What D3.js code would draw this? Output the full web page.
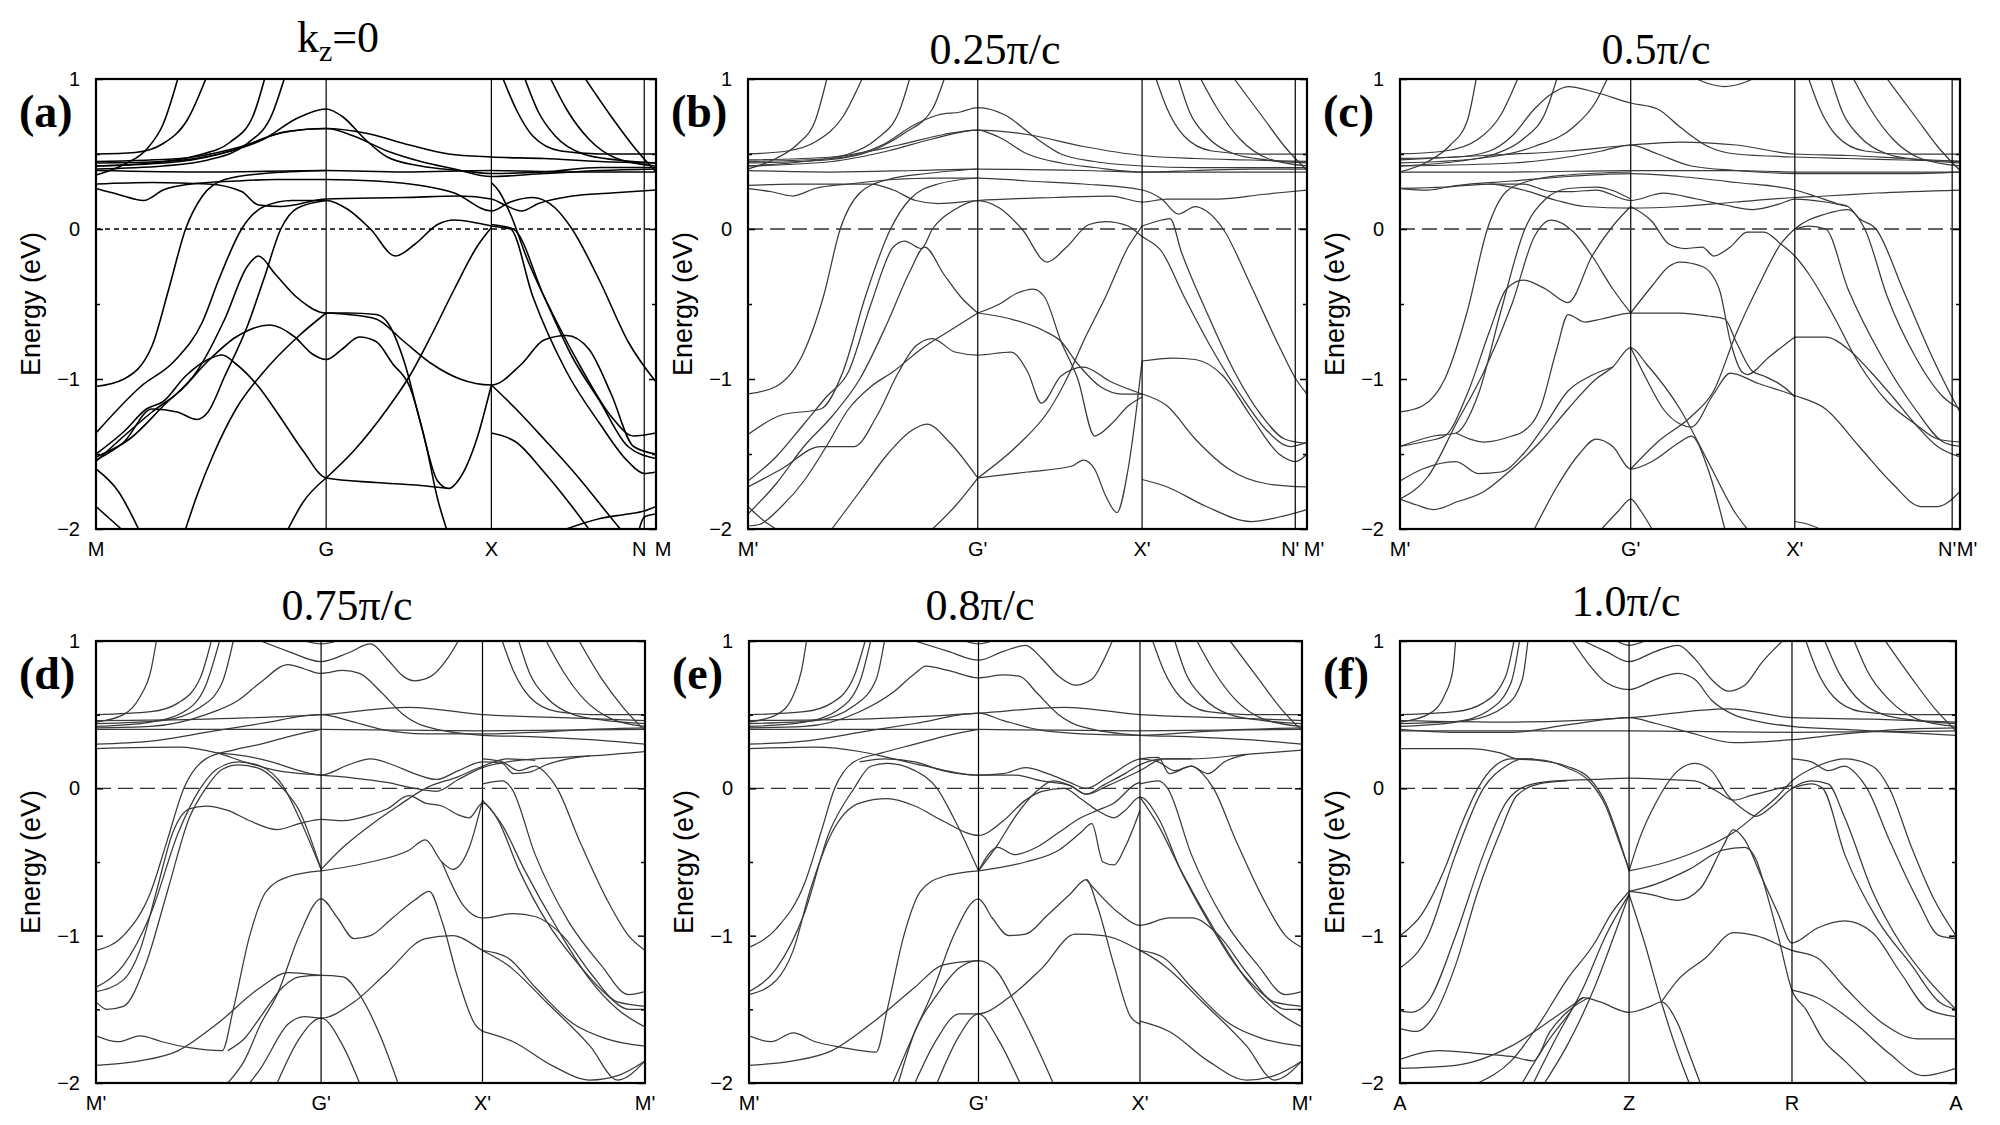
<!DOCTYPE html>
<meta charset="utf-8">
<style>
body { margin: 0; background: #fff; }
svg { display: block; }
.band { fill: none; }
.sym { stroke: #000; stroke-width: 1.2px; }
.frame { fill: none; stroke: #000; stroke-width: 2.2px; }
.axis text { font-family: "Liberation Sans", Arial, sans-serif; font-size: 20px; fill: #000; }
.axis line { stroke: #000; stroke-width: 1.5px; }
.axis path { display: none; }
.klabel { font-family: "Liberation Sans", Arial, sans-serif; font-size: 20px; }
.ylabel { font-family: "Liberation Sans", Arial, sans-serif; font-size: 27px; }
.title { font-family: "Liberation Serif", "Times New Roman", serif; font-size: 44px; }
.letter { font-family: "Liberation Serif", "Times New Roman", serif; font-size: 46px; font-weight: bold; }
</style>
<svg id="chart" width="2000" height="1125"></svg>
<script src="https://d3js.org/d3.v7.min.js"></script>
<script>
// panel titles, letters and k-path labels
var panelTitles = ["k=0", "0.25\u03c0/c", "0.5\u03c0/c", "0.75\u03c0/c", "0.8\u03c0/c", "1.0\u03c0/c"];
var panelLetters = ["(a)", "(b)", "(c)", "(d)", "(e)", "(f)"];
var kPoints = [
    [0, 0.411, 0.706, 0.979, 1],
    [0, 0.411, 0.705, 0.979, 1],
    [0, 0.412, 0.705, 0.986, 1],
    [0, 0.41, 0.704, 1],
    [0, 0.415, 0.707, 1],
    [0, 0.412, 0.705, 1]
];
var kNames = [
    ["M", "G", "X", "N", "M"],
    ["M'", "G'", "X'", "N'", "M'"],
    ["M'", "G'", "X'", "N'", "M'"],
    ["M'", "G'", "X'", "M'"],
    ["M'", "G'", "X'", "M'"],
    ["A", "Z", "R", "A"]
];
var energyTicks = [-2, -1.5, -1, -0.5, 0, 0.5, 1];

// bands: lists of [k (fraction of path), energy eV]
var bandsA = [
 [[0,0.36],[0.05,0.43],[0.09,0.53],[0.12,0.7],[0.146,1]],
 [[0,0.5],[0.07,0.51],[0.12,0.57],[0.165,0.74],[0.196,1]],
 [[0,0.42],[0.1,0.44],[0.18,0.49],[0.24,0.58],[0.28,0.75],[0.301,1]],
 [[0,0.4],[0.12,0.42],[0.2,0.46],[0.27,0.57],[0.315,0.77],[0.336,1]],
 [[0,0.44],[0.12,0.45],[0.22,0.5],[0.3,0.6],[0.36,0.74],[0.411,0.8],[0.44,0.75],[0.48,0.6],[0.52,0.48],[0.58,0.42],[0.65,0.39],[0.706,0.37],[0.8,0.38],[0.9,0.41],[1,0.41]],
 [[0,0.42],[0.15,0.45],[0.25,0.53],[0.33,0.64],[0.411,0.67],[0.48,0.64],[0.56,0.56],[0.63,0.5],[0.706,0.48],[0.8,0.47],[0.9,0.45],[1,0.44]],
 [[0,0.45],[0.15,0.47],[0.26,0.55],[0.34,0.65],[0.411,0.67],[0.46,0.62],[0.52,0.52],[0.58,0.45],[0.64,0.4],[0.706,0.35],[0.8,0.37],[0.9,0.39],[1,0.4]],
 [[0,0.39],[0.2,0.38],[0.411,0.39],[0.55,0.38],[0.706,0.39],[0.85,0.38],[1,0.38]],
 [[0,0.3],[0.1,0.31],[0.2,0.3],[0.26,0.25],[0.29,0.16],[0.33,0.15],[0.411,0.2],[0.55,0.21],[0.65,0.22],[0.706,0.2],[0.73,0.16],[0.76,0.12],[0.79,0.17],[0.85,0.22],[0.92,0.24],[1,0.26]],
 [[0,0.27],[0.04,0.23],[0.085,0.19],[0.12,0.26],[0.17,0.3],[0.25,0.32],[0.32,0.33],[0.411,0.33],[0.5,0.32],[0.58,0.29],[0.64,0.24],[0.706,0.12],[0.74,0.18],[0.78,0.21],[0.82,0.14],[0.85,0],[0.9,-0.35],[0.95,-0.75],[1,-1.02]],
 [[0,-1.05],[0.05,-1.0],[0.1,-0.78],[0.13,-0.4],[0.16,0],[0.19,0.22],[0.23,0.33],[0.3,0.37],[0.411,0.39]],
 [[0,-1.36],[0.08,-1.05],[0.14,-0.88],[0.19,-0.62],[0.22,-0.33],[0.26,0],[0.3,0.15],[0.35,0.19],[0.411,0.19],[0.45,0.13],[0.49,0],[0.535,-0.18],[0.57,-0.1],[0.61,0.03],[0.64,0.06],[0.68,0.04],[0.706,0.02],[0.74,0.0],[0.78,-0.45],[0.84,-0.95],[0.9,-1.3],[0.95,-1.55],[0.979,-1.63],[1,-1.62]],
 [[0,-1.54],[0.05,-1.42],[0.1,-1.2],[0.145,-1.22],[0.18,-1.27],[0.2,-1.22],[0.23,-0.98],[0.27,-0.65],[0.3,-0.33],[0.33,0],[0.36,0.14],[0.411,0.19]],
 [[0,-1.52],[0.06,-1.4],[0.12,-1.18],[0.18,-0.95],[0.23,-0.6],[0.27,-0.25],[0.29,-0.18],[0.32,-0.3],[0.36,-0.46],[0.411,-0.56],[0.45,-0.56],[0.5,-0.57],[0.52,-0.62],[0.55,-0.88],[0.58,-1.3],[0.61,-1.68],[0.63,-1.73],[0.65,-1.66],[0.68,-1.4],[0.706,-1.04]],
 [[0,-1.55],[0.05,-1.38],[0.1,-1.22],[0.15,-1.08],[0.2,-0.88],[0.25,-0.72],[0.31,-0.64],[0.355,-0.72],[0.385,-0.83],[0.411,-0.87],[0.44,-0.8],[0.47,-0.72],[0.5,-0.75],[0.53,-0.9],[0.56,-1.05],[0.59,-1.45],[0.61,-1.8],[0.626,-2]],
 [[0.411,-0.56],[0.45,-0.57],[0.5,-0.6],[0.55,-0.75],[0.6,-0.9],[0.65,-1.0],[0.706,-1.04],[0.76,-0.9],[0.8,-0.74],[0.84,-0.71],[0.88,-0.8],[0.92,-1.1],[0.96,-1.45],[1,-1.5]],
 [[0.16,-2],[0.18,-1.78],[0.21,-1.5],[0.25,-1.2],[0.3,-0.95],[0.36,-0.72],[0.411,-0.56]],
 [[0,-1.5],[0.05,-1.35],[0.09,-1.2],[0.12,-1.15],[0.16,-0.98],[0.2,-0.87],[0.225,-0.84],[0.25,-0.9],[0.29,-1.05],[0.33,-1.26],[0.37,-1.48],[0.411,-1.66],[0.5,-1.69],[0.58,-1.71],[0.63,-1.73]],
 [[0.411,-1.66],[0.46,-1.48],[0.52,-1.2],[0.56,-0.98],[0.6,-0.7],[0.64,-0.4],[0.68,-0.12],[0.706,0.01]],
 [[0.343,-2],[0.37,-1.82],[0.411,-1.66]],
 [[0.706,-1.36],[0.75,-1.42],[0.8,-1.62],[0.85,-1.85],[0.88,-2]],
 [[0.706,-1.04],[0.75,-1.2],[0.8,-1.4],[0.86,-1.65],[0.91,-1.88],[0.936,-2]],
 [[0.706,0.03],[0.745,0],[0.8,-0.45],[0.85,-0.85],[0.9,-1.15],[0.95,-1.45],[1,-1.53]],
 [[0.706,0.31],[0.72,0.25],[0.74,0.1],[0.77,-0.2],[0.82,-0.6],[0.87,-0.95],[0.92,-1.25],[0.96,-1.38],[1,-1.36]],
 [[0.84,-2],[0.9,-1.93],[0.95,-1.9],[0.979,-1.88],[1,-1.85]],
 [[0.97,-2],[0.979,-1.92],[1,-1.9]],
 [[0,-1.85],[0.03,-1.95],[0.045,-2]],
 [[0,-1.6],[0.04,-1.75],[0.076,-2]],
 [[0.727,1],[0.75,0.8],[0.78,0.62],[0.83,0.52],[0.9,0.5],[1,0.5]],
 [[0.766,1],[0.79,0.78],[0.82,0.62],[0.87,0.5],[0.93,0.46],[1,0.44]],
 [[0.812,1],[0.84,0.8],[0.88,0.6],[0.93,0.47],[1,0.42]],
 [[0.874,1],[0.92,0.75],[0.96,0.55],[1,0.38]]
];

var bandsB = [
 [[0,0.4],[0.05,0.47],[0.09,0.57],[0.12,0.72],[0.141,1]],
 [[0,0.5],[0.07,0.52],[0.12,0.58],[0.17,0.75],[0.204,1]],
 [[0,0.42],[0.1,0.45],[0.18,0.5],[0.23,0.6],[0.27,0.78],[0.289,1]],
 [[0,0.44],[0.14,0.46],[0.22,0.52],[0.28,0.64],[0.33,0.8],[0.351,1]],
 [[0,0.45],[0.15,0.47],[0.24,0.56],[0.3,0.7],[0.34,0.76],[0.38,0.78],[0.411,0.81],[0.46,0.76],[0.51,0.62],[0.56,0.5],[0.62,0.45],[0.705,0.42],[0.8,0.41],[0.9,0.41],[1,0.41]],
 [[0,0.42],[0.15,0.45],[0.25,0.52],[0.33,0.6],[0.411,0.66],[0.5,0.63],[0.6,0.55],[0.705,0.49],[0.8,0.47],[0.9,0.46],[1,0.45]],
 [[0,0.46],[0.15,0.48],[0.27,0.56],[0.35,0.63],[0.411,0.66],[0.45,0.61],[0.5,0.5],[0.56,0.44],[0.62,0.41],[0.705,0.38],[0.8,0.39],[0.9,0.4],[1,0.4]],
 [[0,0.39],[0.15,0.38],[0.3,0.39],[0.411,0.4],[0.6,0.39],[0.705,0.38],[0.85,0.38],[1,0.38]],
 [[0,0.29],[0.08,0.3],[0.16,0.3],[0.22,0.3],[0.26,0.26],[0.3,0.19],[0.34,0.17],[0.411,0.19],[0.55,0.21],[0.65,0.22],[0.705,0.18],[0.75,0.2],[0.8,0.2],[0.84,0.2],[0.92,0.23],[1,0.26]],
 [[0,0.27],[0.04,0.25],[0.08,0.22],[0.12,0.27],[0.18,0.3],[0.26,0.33],[0.33,0.34],[0.411,0.34],[0.5,0.32],[0.6,0.3],[0.705,0.26],[0.74,0.2],[0.77,0.1],[0.8,0.15],[0.82,0.12],[0.85,0],[0.9,-0.38],[0.95,-0.78],[0.98,-1.0],[1,-1.1]],
 [[0,-1.1],[0.05,-1.05],[0.1,-0.82],[0.135,-0.45],[0.165,0],[0.2,0.24],[0.25,0.33],[0.32,0.37],[0.411,0.4]],
 [[0,-1.37],[0.06,-1.24],[0.13,-1.2],[0.17,-0.95],[0.21,-0.45],[0.255,0],[0.29,0.2],[0.34,0.3],[0.411,0.34]],
 [[0,-1.68],[0.05,-1.52],[0.1,-1.3],[0.14,-1.12],[0.18,-0.95],[0.22,-0.5],[0.26,-0.12],[0.28,-0.08],[0.31,-0.13],[0.33,0],[0.37,0.13],[0.411,0.19],[0.45,0.14],[0.49,0],[0.535,-0.22],[0.57,-0.12],[0.61,0.03],[0.64,0.05],[0.68,0.02],[0.705,-0.05],[0.74,-0.15],[0.78,-0.45],[0.83,-0.8],[0.88,-1.1],[0.93,-1.35],[0.97,-1.45],[1,-1.42]],
 [[0.705,0.02],[0.74,0.06],[0.755,0.07],[0.775,-0.15],[0.82,-0.55],[0.87,-0.95],[0.92,-1.25],[0.96,-1.4],[1,-1.43]],
 [[0.411,-1.66],[0.48,-1.45],[0.54,-1.2],[0.57,-1.0],[0.6,-0.75],[0.64,-0.45],[0.68,-0.12],[0.705,0.02]],
 [[0.411,-1.66],[0.5,-1.62],[0.58,-1.58],[0.6,-1.54],[0.62,-1.6],[0.64,-1.78],[0.66,-1.89],[0.68,-1.6],[0.695,-1.2],[0.705,-0.88]],
 [[0.705,-0.88],[0.76,-0.86],[0.8,-0.87],[0.85,-0.98],[0.9,-1.25],[0.95,-1.5],[0.98,-1.55],[1,-1.5]],
 [[0.705,-1.1],[0.75,-1.18],[0.8,-1.4],[0.86,-1.6],[0.93,-1.7],[1,-1.72]],
 [[0.705,-1.67],[0.75,-1.72],[0.82,-1.85],[0.9,-1.95],[0.95,-1.92],[1,-1.87]],
 [[0,-1.9],[0.05,-1.7],[0.1,-1.45],[0.15,-1.25],[0.2,-1.0],[0.25,-0.62],[0.29,-0.28],[0.316,-0.12],[0.35,-0.3],[0.38,-0.45],[0.411,-0.56]],
 [[0.411,-0.56],[0.45,-0.5],[0.48,-0.43],[0.51,-0.4],[0.53,-0.45],[0.56,-0.75],[0.59,-1.0],[0.62,-1.38],[0.65,-1.3],[0.68,-1.18],[0.705,-1.12]],
 [[0.411,-0.56],[0.47,-0.6],[0.53,-0.68],[0.56,-0.75],[0.59,-0.9],[0.63,-1.05],[0.67,-1.1],[0.705,-1.1]],
 [[0,-1.72],[0.06,-1.6],[0.13,-1.45],[0.19,-1.45],[0.23,-1.25],[0.27,-0.95],[0.3,-0.78],[0.33,-0.73],[0.37,-0.82],[0.411,-0.84],[0.47,-0.82],[0.5,-0.95],[0.525,-1.16],[0.56,-0.98],[0.6,-0.92],[0.65,-1.02],[0.705,-1.1]],
 [[0,-1.98],[0.02,-1.97],[0.06,-1.85],[0.1,-1.68],[0.14,-1.45],[0.18,-1.2],[0.22,-1.05],[0.26,-0.95],[0.31,-0.8],[0.36,-0.68],[0.411,-0.56]],
 [[0.15,-2],[0.2,-1.75],[0.25,-1.5],[0.29,-1.35],[0.32,-1.3],[0.36,-1.42],[0.411,-1.66]],
 [[0.33,-2],[0.37,-1.85],[0.411,-1.66]],
 [[0,-1.85],[0.03,-1.95],[0.05,-2]],
 [[0.73,1],[0.75,0.8],[0.78,0.62],[0.83,0.52],[0.9,0.5],[1,0.5]],
 [[0.77,1],[0.79,0.78],[0.82,0.62],[0.87,0.5],[0.93,0.46],[1,0.44]],
 [[0.81,1],[0.84,0.8],[0.88,0.6],[0.93,0.47],[1,0.42]],
 [[0.87,1],[0.92,0.75],[0.96,0.55],[1,0.39]]
];

var bandsC = [
 [[0,0.38],[0.05,0.45],[0.09,0.56],[0.12,0.72],[0.136,1]],
 [[0,0.5],[0.08,0.52],[0.14,0.6],[0.18,0.76],[0.21,1]],
 [[0,0.42],[0.1,0.45],[0.17,0.5],[0.22,0.6],[0.26,0.78],[0.28,1]],
 [[0,0.44],[0.14,0.47],[0.24,0.55],[0.31,0.68],[0.35,0.85],[0.37,1]],
 [[0,0.47],[0.1,0.48],[0.16,0.52],[0.2,0.62],[0.24,0.8],[0.27,0.9],[0.3,0.95],[0.35,0.91],[0.412,0.84],[0.46,0.8],[0.5,0.68],[0.55,0.55],[0.6,0.5],[0.705,0.48],[0.8,0.47],[0.9,0.46],[1,0.45]],
 [[0.53,1],[0.55,0.97],[0.58,0.95],[0.61,0.97],[0.63,1]],
 [[0,0.46],[0.15,0.49],[0.3,0.52],[0.412,0.56],[0.5,0.58],[0.6,0.56],[0.705,0.5],[0.8,0.49],[0.9,0.47],[1,0.45]],
 [[0,0.42],[0.2,0.44],[0.3,0.48],[0.36,0.52],[0.412,0.56],[0.46,0.5],[0.52,0.42],[0.6,0.39],[0.705,0.37],[0.8,0.37],[0.9,0.37],[1,0.38]],
 [[0,0.38],[0.2,0.38],[0.412,0.39],[0.6,0.39],[0.705,0.38],[1,0.38]],
 [[0,0.27],[0.08,0.28],[0.16,0.3],[0.22,0.26],[0.28,0.19],[0.33,0.15],[0.412,0.14],[0.5,0.15],[0.6,0.18],[0.705,0.21],[0.76,0.22],[0.85,0.24],[1,0.26]],
 [[0.16,0.3],[0.22,0.3],[0.27,0.25],[0.31,0.25],[0.35,0.26],[0.412,0.19],[0.47,0.24],[0.53,0.2],[0.58,0.16],[0.63,0.13],[0.68,0.17],[0.705,0.2],[0.76,0.18],[0.8,0.15]],
 [[0,0.27],[0.05,0.26],[0.1,0.29],[0.2,0.32],[0.3,0.35],[0.412,0.37],[0.5,0.35],[0.6,0.31],[0.705,0.26],[0.74,0.22],[0.78,0.17],[0.8,0.15],[0.82,0.07],[0.85,0],[0.9,-0.42],[0.95,-0.85],[0.98,-1.08],[1,-1.22]],
 [[0,-1.22],[0.04,-1.18],[0.08,-1.0],[0.12,-0.55],[0.156,0],[0.19,0.25],[0.23,0.32],[0.3,0.36],[0.412,0.38]],
 [[0,-1.45],[0.06,-1.38],[0.1,-1.36],[0.14,-1.1],[0.18,-0.55],[0.223,0],[0.26,0.2],[0.3,0.27],[0.35,0.28],[0.412,0.2]],
 [[0,-1.8],[0.05,-1.65],[0.1,-1.3],[0.15,-0.95],[0.2,-0.5],[0.24,-0.05],[0.27,0.06],[0.31,-0.02],[0.343,-0.18],[0.38,-0.4],[0.412,-0.56]],
 [[0,-1.45],[0.04,-1.42],[0.08,-1.38],[0.12,-1.1],[0.16,-0.68],[0.19,-0.4],[0.22,-0.34],[0.26,-0.4],[0.3,-0.49],[0.343,-0.18],[0.38,0.02],[0.412,0.15]],
 [[0.412,0.15],[0.45,0.05],[0.48,-0.1],[0.51,-0.13],[0.54,-0.12],[0.56,-0.18],[0.59,-0.12],[0.62,-0.02],[0.65,-0.02],[0.68,-0.1],[0.705,-0.18],[0.73,-0.3],[0.77,-0.55],[0.82,-0.9],[0.87,-1.15],[0.92,-1.3],[0.96,-1.4],[1,-1.42]],
 [[0.705,0.0],[0.73,0.02],[0.76,0.0],[0.8,-0.4],[0.86,-0.85],[0.92,-1.2],[0.97,-1.42],[1,-1.45]],
 [[0.412,-1.6],[0.46,-1.42],[0.52,-1.25],[0.56,-1.08],[0.6,-0.7],[0.64,-0.38],[0.68,-0.1],[0.705,0.0],[0.76,0.1],[0.8,0.13],[0.83,0.0],[0.87,-0.45],[0.92,-0.85],[0.97,-1.12],[1,-1.2]],
 [[0.1,-1.36],[0.15,-1.42],[0.2,-1.38],[0.22,-1.35],[0.25,-1.2],[0.28,-0.8],[0.3,-0.57],[0.33,-0.62],[0.36,-0.6],[0.412,-0.56],[0.5,-0.56],[0.55,-0.58],[0.58,-0.6],[0.6,-0.75],[0.63,-0.95],[0.65,-0.98],[0.7,-1.1],[0.705,-1.12]],
 [[0.412,-0.56],[0.45,-0.38],[0.48,-0.25],[0.5,-0.22],[0.54,-0.25],[0.57,-0.4],[0.59,-0.75],[0.61,-0.95],[0.62,-0.97],[0.66,-0.85],[0.705,-0.72]],
 [[0.705,-0.72],[0.76,-0.72],[0.8,-0.8],[0.84,-0.95],[0.88,-1.12],[0.92,-1.3],[0.96,-1.45],[1,-1.52]],
 [[0.412,-0.79],[0.44,-1.0],[0.47,-1.2],[0.5,-1.3],[0.52,-1.32],[0.56,-1.1],[0.59,-0.96],[0.64,-1.03],[0.705,-1.11],[0.76,-1.2],[0.82,-1.45],[0.88,-1.7],[0.93,-1.85],[0.96,-1.85],[1,-1.75]],
 [[0.1,-1.82],[0.15,-1.75],[0.2,-1.6],[0.25,-1.42],[0.3,-1.2],[0.35,-1.0],[0.38,-0.92],[0.412,-0.79],[0.44,-0.9],[0.5,-1.2],[0.55,-1.55],[0.6,-1.9],[0.62,-2]],
 [[0.24,-2],[0.28,-1.72],[0.32,-1.5],[0.35,-1.4],[0.38,-1.45],[0.412,-1.6],[0.45,-1.55],[0.5,-1.42],[0.52,-1.38],[0.55,-1.6],[0.58,-2]],
 [[0.36,-2],[0.39,-1.88],[0.412,-1.8],[0.43,-1.88],[0.45,-2]],
 [[0,-1.68],[0.04,-1.6],[0.1,-1.55],[0.14,-1.63],[0.18,-1.62],[0.22,-1.5],[0.26,-1.3],[0.3,-1.08],[0.34,-0.98],[0.38,-0.92]],
 [[0,-1.8],[0.03,-1.84],[0.06,-1.87],[0.1,-1.82]],
 [[0.705,-1.95],[0.73,-1.97],[0.75,-2]],
 [[0.73,1],[0.75,0.8],[0.78,0.62],[0.83,0.52],[0.9,0.5],[1,0.5]],
 [[0.77,1],[0.79,0.78],[0.82,0.62],[0.87,0.5],[0.93,0.46],[1,0.44]],
 [[0.81,1],[0.84,0.8],[0.88,0.6],[0.93,0.47],[1,0.42]],
 [[0.87,1],[0.92,0.75],[0.96,0.55],[1,0.39]]
];

var bandsD = [
 [[0,0.45],[0.05,0.5],[0.08,0.62],[0.1,0.8],[0.11,1]],
 [[0,0.5],[0.1,0.52],[0.15,0.58],[0.19,0.75],[0.21,1]],
 [[0,0.42],[0.1,0.45],[0.16,0.52],[0.2,0.7],[0.225,1]],
 [[0,0.44],[0.12,0.46],[0.19,0.55],[0.23,0.72],[0.25,1]],
 [[0.3,1],[0.35,0.93],[0.41,0.86],[0.46,0.92],[0.5,0.98],[0.53,0.88],[0.56,0.76],[0.58,0.73],[0.61,0.76],[0.64,0.88],[0.66,1]],
 [[0.38,1],[0.41,0.98],[0.44,1]],
 [[0,0.41],[0.1,0.42],[0.2,0.5],[0.26,0.6],[0.3,0.72],[0.35,0.84],[0.38,0.81],[0.41,0.78],[0.45,0.8],[0.48,0.78],[0.52,0.65],[0.56,0.5],[0.6,0.42],[0.704,0.36],[0.8,0.35],[0.9,0.33],[1,0.3]],
 [[0,0.46],[0.2,0.47],[0.41,0.5],[0.57,0.55],[0.704,0.5],[0.85,0.48],[1,0.46]],
 [[0,0.3],[0.1,0.32],[0.2,0.38],[0.3,0.44],[0.41,0.5],[0.46,0.46],[0.52,0.4],[0.6,0.37],[0.704,0.37],[0.8,0.38],[0.9,0.4],[1,0.41]],
 [[0,0.4],[0.41,0.4],[0.7,0.39],[1,0.4]],
 [[0,0.27],[0.15,0.28],[0.22,0.24],[0.27,0.18],[0.33,0.12],[0.41,0.09],[0.47,0.07],[0.53,0.04],[0.58,0.0],[0.62,-0.02],[0.66,0.06],[0.704,0.14],[0.75,0.18],[0.8,0.2],[0.9,0.22],[1,0.25]],
 [[0.22,0.24],[0.27,0.22],[0.32,0.18],[0.37,0.12],[0.41,0.09],[0.46,0.16],[0.5,0.2],[0.54,0.16],[0.58,0.1],[0.62,0.06],[0.66,0.12],[0.704,0.18],[0.74,0.17],[0.76,0.1],[0.79,0.11],[0.82,0.16],[0.86,0.2],[0.9,0.22]],
 [[0,-1.1],[0.05,-1.0],[0.1,-0.7],[0.13,-0.35],[0.16,0],[0.2,0.2],[0.25,0.26],[0.3,0.3],[0.36,0.36],[0.41,0.4]],
 [[0,-1.35],[0.05,-1.2],[0.1,-0.85],[0.15,-0.3],[0.19,0],[0.22,0.13],[0.26,0.18],[0.3,0.15],[0.34,0.02],[0.37,-0.2],[0.41,-0.55]],
 [[0.41,-0.55],[0.45,-0.4],[0.5,-0.25],[0.55,-0.12],[0.6,0.0],[0.66,0.08],[0.704,0.15],[0.75,0.2],[0.8,0.19]],
 [[0,-1.45],[0.02,-1.5],[0.05,-1.48],[0.09,-1.2],[0.13,-0.7],[0.17,-0.2],[0.2,0],[0.23,0.13],[0.26,0.16],[0.3,0.13],[0.34,0.0],[0.37,-0.15],[0.41,-0.55]],
 [[0,-1.38],[0.05,-1.3],[0.08,-1.1],[0.11,-0.7],[0.14,-0.3],[0.17,-0.14],[0.2,-0.12],[0.24,-0.15],[0.28,-0.22],[0.33,-0.28],[0.37,-0.24],[0.41,-0.21],[0.45,-0.22],[0.5,-0.18],[0.53,-0.14],[0.57,-0.05],[0.6,-0.1],[0.63,-0.12],[0.66,-0.18],[0.68,-0.2],[0.704,-0.1],[0.73,-0.2],[0.77,-0.55],[0.82,-0.9],[0.88,-1.2],[0.93,-1.4],[0.97,-1.5],[1,-1.5]],
 [[0.24,-2],[0.27,-1.85],[0.3,-1.6],[0.33,-1.4],[0.37,-1.0],[0.41,-0.75],[0.44,-0.88],[0.47,-1.02],[0.5,-1.0],[0.54,-0.88],[0.58,-0.76],[0.607,-0.7],[0.63,-0.9],[0.66,-1.3],[0.69,-1.6],[0.704,-1.65]],
 [[0.41,-0.56],[0.5,-0.5],[0.57,-0.42],[0.6,-0.35],[0.63,-0.5],[0.65,-0.55],[0.68,-0.4],[0.704,-0.08]],
 [[0,-1.68],[0.04,-1.72],[0.08,-1.68],[0.12,-1.72],[0.17,-1.76],[0.23,-1.78],[0.25,-1.5],[0.28,-1.0],[0.31,-0.7],[0.35,-0.6],[0.41,-0.56]],
 [[0.24,-1.78],[0.27,-1.7],[0.3,-1.55],[0.34,-1.35],[0.37,-1.28],[0.41,-1.27],[0.45,-1.28],[0.48,-1.4],[0.52,-1.7],[0.55,-2]],
 [[0.28,-2],[0.3,-1.9],[0.35,-1.6],[0.38,-1.55],[0.41,-1.56],[0.47,-1.45],[0.53,-1.25],[0.6,-1.02],[0.65,-1.0],[0.704,-1.1],[0.75,-1.2],[0.82,-1.45],[0.9,-1.75],[0.95,-1.98],[1,-1.85]],
 [[0.33,-2],[0.37,-1.7],[0.41,-1.56],[0.45,-1.75],[0.48,-2]],
 [[0,-1.88],[0.08,-1.85],[0.15,-1.78],[0.22,-1.6],[0.3,-1.35],[0.35,-1.25],[0.41,-1.27]],
 [[0.63,-0.5],[0.67,-0.8],[0.704,-0.88],[0.76,-0.85],[0.8,-0.87],[0.85,-1.0],[0.9,-1.25],[0.95,-1.45],[1,-1.48]],
 [[0.704,-1.1],[0.75,-1.15],[0.8,-1.35],[0.87,-1.6],[0.93,-1.7],[1,-1.75]],
 [[0.704,-1.65],[0.76,-1.72],[0.83,-1.88],[0.9,-1.98],[0.95,-1.95],[1,-1.85]],
 [[0.704,0.2],[0.74,0.18],[0.77,0.12],[0.8,0.15],[0.82,0.1],[0.84,0],[0.88,-0.35],[0.93,-0.75],[0.97,-1.0],[1,-1.1]],
 [[0.704,0.03],[0.74,0.05],[0.757,0.0],[0.8,-0.45],[0.86,-0.9],[0.92,-1.2],[0.97,-1.4],[1,-1.38]],
 [[0.704,-0.08],[0.74,-0.25],[0.78,-0.55],[0.84,-0.95],[0.9,-1.3],[0.95,-1.5],[1,-1.62]],
 [[0.74,1],[0.76,0.8],[0.79,0.62],[0.84,0.52],[0.9,0.5],[1,0.5]],
 [[0.77,1],[0.79,0.78],[0.82,0.62],[0.87,0.5],[0.93,0.46],[1,0.44]],
 [[0.82,1],[0.85,0.8],[0.89,0.6],[0.94,0.47],[1,0.42]],
 [[0.88,1],[0.92,0.75],[0.96,0.55],[1,0.39]]
];

var bandsE = [
 [[0,0.45],[0.05,0.5],[0.08,0.63],[0.095,0.8],[0.104,1]],
 [[0,0.5],[0.1,0.52],[0.15,0.58],[0.19,0.76],[0.21,1]],
 [[0,0.42],[0.1,0.45],[0.16,0.53],[0.2,0.72],[0.22,1]],
 [[0,0.44],[0.12,0.46],[0.19,0.56],[0.23,0.74],[0.245,1]],
 [[0.3,1],[0.36,0.93],[0.415,0.87],[0.46,0.93],[0.5,0.97],[0.53,0.88],[0.56,0.76],[0.59,0.7],[0.62,0.74],[0.64,0.86],[0.657,1]],
 [[0.39,1],[0.415,0.98],[0.44,1]],
 [[0,0.41],[0.1,0.42],[0.2,0.52],[0.26,0.65],[0.3,0.78],[0.32,0.83],[0.36,0.8],[0.415,0.75],[0.46,0.77],[0.49,0.76],[0.52,0.65],[0.56,0.5],[0.6,0.42],[0.707,0.36],[0.8,0.35],[0.9,0.33],[1,0.3]],
 [[0,0.46],[0.2,0.47],[0.415,0.51],[0.57,0.55],[0.707,0.5],[0.85,0.48],[1,0.46]],
 [[0,0.3],[0.1,0.32],[0.2,0.38],[0.3,0.44],[0.415,0.51],[0.46,0.46],[0.52,0.4],[0.6,0.37],[0.707,0.36],[0.8,0.38],[0.9,0.4],[1,0.41]],
 [[0,0.4],[0.415,0.4],[0.7,0.39],[1,0.4]],
 [[0,0.27],[0.12,0.28],[0.2,0.25],[0.25,0.21],[0.32,0.15],[0.415,0.09],[0.48,0.09],[0.53,0.05],[0.58,0.02],[0.61,-0.04],[0.64,0.02],[0.68,0.1],[0.707,0.16],[0.75,0.2],[0.8,0.2],[0.9,0.23],[1,0.26]],
 [[0.2,0.18],[0.245,0.2],[0.3,0.18],[0.35,0.12],[0.415,0.09],[0.46,0.1],[0.5,0.14],[0.54,0.1],[0.58,0.04],[0.61,0.0],[0.65,0.08],[0.707,0.2],[0.74,0.21],[0.76,0.1],[0.8,0.15],[0.83,0.1],[0.86,0.18],[0.9,0.23]],
 [[0,-1.08],[0.05,-0.95],[0.1,-0.65],[0.13,-0.3],[0.155,0],[0.19,0.18],[0.24,0.24],[0.3,0.3],[0.36,0.36],[0.415,0.4]],
 [[0,-1.38],[0.05,-1.22],[0.1,-0.85],[0.145,-0.3],[0.19,0.0],[0.22,0.15],[0.25,0.17],[0.3,0.12],[0.34,0.0],[0.37,-0.2],[0.415,-0.56]],
 [[0.415,-0.56],[0.45,-0.38],[0.48,-0.2],[0.52,-0.02],[0.55,0.05],[0.58,0.02],[0.61,-0.04],[0.65,0.02],[0.707,0.12],[0.75,0.2],[0.8,0.2]],
 [[0,-1.4],[0.05,-1.3],[0.08,-1.1],[0.11,-0.7],[0.15,-0.3],[0.2,-0.1],[0.25,-0.07],[0.3,-0.12],[0.35,-0.22],[0.415,-0.32],[0.46,-0.22],[0.5,-0.08],[0.53,-0.02],[0.57,0.0],[0.6,-0.07],[0.63,-0.15],[0.66,-0.2],[0.68,-0.15],[0.707,-0.06],[0.74,-0.2],[0.78,-0.55],[0.83,-0.9],[0.88,-1.2],[0.93,-1.4],[0.97,-1.5],[1,-1.5]],
 [[0.26,-2],[0.3,-1.65],[0.33,-1.4],[0.37,-1.0],[0.415,-0.75],[0.44,-0.88],[0.47,-1.0],[0.5,-0.99],[0.54,-0.86],[0.58,-0.72],[0.61,-0.62],[0.63,-0.8],[0.66,-1.2],[0.69,-1.55],[0.707,-1.6]],
 [[0.415,-0.56],[0.5,-0.5],[0.56,-0.42],[0.6,-0.3],[0.62,-0.24],[0.64,-0.5],[0.66,-0.52],[0.68,-0.4],[0.707,-0.15]],
 [[0.415,-0.56],[0.45,-0.4],[0.48,-0.45],[0.52,-0.4],[0.56,-0.3],[0.6,-0.2],[0.63,-0.15],[0.66,-0.1],[0.7,0.03],[0.707,0.04]],
 [[0,-1.68],[0.04,-1.72],[0.08,-1.66],[0.12,-1.72],[0.17,-1.76],[0.23,-1.79],[0.25,-1.5],[0.28,-1.0],[0.31,-0.7],[0.35,-0.6],[0.415,-0.56]],
 [[0.27,-2],[0.3,-1.65],[0.34,-1.4],[0.38,-1.22],[0.415,-1.17],[0.45,-1.25],[0.48,-1.45],[0.52,-1.75],[0.55,-2]],
 [[0.3,-2],[0.34,-1.7],[0.38,-1.53],[0.415,-1.53],[0.47,-1.42],[0.53,-1.22],[0.59,-0.99],[0.64,-1.0],[0.707,-1.1],[0.75,-1.2],[0.82,-1.45],[0.9,-1.75],[0.95,-1.98],[1,-1.85]],
 [[0.34,-2],[0.38,-1.68],[0.415,-1.53],[0.45,-1.7],[0.49,-2]],
 [[0,-1.88],[0.08,-1.85],[0.15,-1.78],[0.22,-1.6],[0.3,-1.35],[0.35,-1.2],[0.415,-1.17]],
 [[0.61,-0.62],[0.67,-0.85],[0.707,-0.93],[0.76,-0.88],[0.8,-0.88],[0.85,-1.0],[0.9,-1.25],[0.95,-1.45],[1,-1.48]],
 [[0.707,-1.1],[0.75,-1.15],[0.8,-1.35],[0.87,-1.6],[0.93,-1.7],[1,-1.75]],
 [[0.707,-1.58],[0.76,-1.65],[0.83,-1.85],[0.9,-1.98],[0.95,-1.95],[1,-1.85]],
 [[0.707,0.2],[0.74,0.18],[0.77,0.12],[0.8,0.15],[0.82,0.1],[0.84,0],[0.88,-0.35],[0.93,-0.75],[0.97,-1.0],[1,-1.08]],
 [[0.707,0.03],[0.74,0.05],[0.757,0.0],[0.8,-0.45],[0.86,-0.9],[0.92,-1.2],[0.97,-1.4],[1,-1.38]],
 [[0.707,-0.06],[0.74,-0.25],[0.78,-0.55],[0.84,-0.95],[0.9,-1.3],[0.95,-1.5],[1,-1.62]],
 [[0.73,1],[0.75,0.8],[0.78,0.62],[0.83,0.52],[0.9,0.5],[1,0.5]],
 [[0.77,1],[0.79,0.78],[0.82,0.62],[0.87,0.5],[0.93,0.46],[1,0.44]],
 [[0.81,1],[0.84,0.8],[0.88,0.6],[0.93,0.47],[1,0.42]],
 [[0.87,1],[0.92,0.75],[0.96,0.55],[1,0.39]]
];

var bandsF = [
 [[0,0.45],[0.05,0.5],[0.08,0.63],[0.095,0.8],[0.1,1]],
 [[0,0.5],[0.1,0.52],[0.15,0.58],[0.19,0.76],[0.205,1]],
 [[0,0.42],[0.1,0.45],[0.16,0.53],[0.2,0.72],[0.215,1]],
 [[0,0.44],[0.12,0.46],[0.19,0.56],[0.22,0.74],[0.23,1]],
 [[0.33,1],[0.37,0.93],[0.412,0.86],[0.46,0.93],[0.5,0.97],[0.53,0.88],[0.56,0.74],[0.59,0.66],[0.62,0.7],[0.65,0.85],[0.688,1]],
 [[0.39,1],[0.412,0.97],[0.44,1]],
 [[0.31,1],[0.34,0.84],[0.37,0.72],[0.412,0.67],[0.46,0.74],[0.5,0.78],[0.53,0.74],[0.56,0.6],[0.6,0.5],[0.65,0.45],[0.705,0.42],[0.8,0.4],[0.9,0.38],[1,0.36]],
 [[0,0.46],[0.2,0.45],[0.412,0.48],[0.59,0.54],[0.705,0.48],[0.85,0.47],[1,0.45]],
 [[0,0.4],[0.1,0.38],[0.2,0.38],[0.3,0.43],[0.412,0.48],[0.46,0.44],[0.52,0.38],[0.6,0.31],[0.705,0.33],[0.8,0.37],[0.9,0.4],[1,0.41]],
 [[0,0.39],[0.412,0.39],[0.705,0.38],[1,0.39]],
 [[0,0.27],[0.12,0.27],[0.18,0.24],[0.21,0.2],[0.25,0.19],[0.3,0.15],[0.34,0.07],[0.37,-0.1],[0.39,-0.3],[0.412,-0.56]],
 [[0,-1.22],[0.05,-1.0],[0.1,-0.45],[0.15,0.0],[0.19,0.15],[0.22,0.2],[0.26,0.19],[0.3,0.14],[0.34,0.05],[0.37,-0.12],[0.39,-0.32],[0.412,-0.55]],
 [[0,-1.51],[0.02,-1.52],[0.05,-1.45],[0.1,-1.0],[0.15,-0.45],[0.19,-0.1],[0.23,0.02],[0.28,0.05],[0.35,0.06],[0.412,0.07],[0.48,0.06],[0.53,0.05],[0.57,-0.02],[0.6,-0.08],[0.63,-0.05],[0.66,-0.02],[0.705,0.02]],
 [[0,-1.0],[0.04,-0.85],[0.08,-0.55],[0.11,-0.25],[0.14,0],[0.17,0.15],[0.2,0.2],[0.24,0.2]],
 [[0,-1.63],[0.03,-1.65],[0.06,-1.55],[0.1,-1.2],[0.14,-0.7],[0.18,-0.3],[0.21,-0.05],[0.25,0.03],[0.3,0.05]],
 [[0.412,-0.56],[0.43,-0.35],[0.46,-0.1],[0.5,0.12],[0.53,0.17],[0.56,0.12],[0.59,-0.05],[0.62,-0.15],[0.64,-0.19],[0.67,-0.12],[0.705,0.0],[0.74,0.05],[0.77,0.03],[0.8,-0.2],[0.85,-0.7],[0.9,-1.05],[0.95,-1.3],[1,-1.5]],
 [[0.412,-0.56],[0.48,-0.5],[0.55,-0.4],[0.6,-0.3],[0.64,-0.18],[0.68,-0.05],[0.705,0.05],[0.75,0.15],[0.8,0.2],[0.85,0.15],[0.88,0.0],[0.92,-0.4],[0.96,-0.75],[1,-1.0]],
 [[0.412,-0.7],[0.45,-0.72],[0.5,-0.76],[0.54,-0.68],[0.58,-0.4],[0.6,-0.28],[0.62,-0.35],[0.65,-0.6],[0.68,-0.85],[0.705,-1.05],[0.75,-0.95],[0.8,-0.9],[0.85,-0.98],[0.9,-1.25],[0.95,-1.5],[1,-1.55]],
 [[0.412,-0.7],[0.46,-0.65],[0.52,-0.55],[0.58,-0.42],[0.62,-0.4],[0.64,-0.48],[0.66,-0.72],[0.68,-1.0],[0.705,-1.37],[0.73,-1.5],[0.76,-1.7],[0.8,-1.85],[0.84,-2]],
 [[0.14,-2],[0.2,-1.85],[0.25,-1.6],[0.3,-1.3],[0.35,-1.05],[0.38,-0.85],[0.412,-0.7]],
 [[0.24,-2],[0.28,-1.7],[0.33,-1.35],[0.37,-1.0],[0.412,-0.72]],
 [[0.26,-2],[0.3,-1.75],[0.35,-1.35],[0.39,-0.95],[0.412,-0.72]],
 [[0.412,-0.72],[0.44,-1.05],[0.47,-1.45],[0.5,-1.8],[0.52,-2]],
 [[0.22,-2],[0.26,-1.75],[0.3,-1.55],[0.33,-1.42],[0.36,-1.45],[0.412,-1.52],[0.45,-1.48],[0.47,-1.45],[0.5,-1.6],[0.52,-1.8],[0.54,-2]],
 [[0,-1.84],[0.07,-1.78],[0.14,-1.8],[0.2,-1.82],[0.24,-1.85],[0.27,-1.65],[0.3,-1.52],[0.34,-1.42]],
 [[0,-1.9],[0.1,-1.88],[0.2,-1.75],[0.28,-1.55],[0.33,-1.42]],
 [[0.47,-1.45],[0.5,-1.3],[0.55,-1.15],[0.6,-0.98],[0.64,-1.0],[0.705,-1.1],[0.75,-1.15],[0.8,-1.35],[0.87,-1.6],[0.93,-1.7],[1,-1.7]],
 [[0.705,-1.37],[0.75,-1.42],[0.82,-1.6],[0.88,-1.8],[0.94,-1.95],[1,-1.9]],
 [[0.705,0.2],[0.74,0.18],[0.77,0.12],[0.8,0.15],[0.82,0.1],[0.84,0],[0.88,-0.35],[0.93,-0.75],[0.97,-1.0],[1,-1.02]],
 [[0.705,0.0],[0.74,0.03],[0.76,0.0],[0.8,-0.45],[0.86,-0.9],[0.92,-1.2],[0.97,-1.45],[1,-1.5]],
 [[0.73,1],[0.75,0.8],[0.78,0.62],[0.83,0.52],[0.9,0.5],[1,0.5]],
 [[0.764,1],[0.79,0.78],[0.82,0.62],[0.87,0.5],[0.93,0.46],[1,0.44]],
 [[0.817,1],[0.84,0.8],[0.88,0.6],[0.93,0.47],[1,0.42]],
 [[0.873,1],[0.92,0.75],[0.96,0.55],[1,0.39]]
];

var allBands = [bandsA, bandsB, bandsC, bandsD, bandsE, bandsF];

// layout of the six panels (pixels)
var panels = [
    {x: 96,   y: 79,  w: 560, h: 450, tx: 338,  ty: 52},
    {x: 748,  y: 79,  w: 559, h: 450, tx: 995,  ty: 64},
    {x: 1400, y: 79,  w: 560, h: 450, tx: 1656, ty: 64},
    {x: 96,   y: 641, w: 549, h: 442, tx: 347,  ty: 620},
    {x: 749,  y: 641, w: 553, h: 442, tx: 980,  ty: 620},
    {x: 1400, y: 641, w: 556, h: 442, tx: 1626, ty: 616}
];

var svg = d3.select("#chart");

panels.forEach(function(p, i) {
    var x = d3.scaleLinear().domain([0, 1]).range([0, p.w]);
    var y = d3.scaleLinear().domain([-2, 1]).range([p.h, 0]);
    var first = (i === 0);
    var bandColor = first ? "#000" : "#3a3a3a";
    var bandWidth = first ? 1.6 : 1.25;

    var g = svg.append("g").attr("transform", "translate(" + p.x + "," + p.y + ")");

    g.append("clipPath").attr("id", "clip" + i)
     .append("rect").attr("width", p.w).attr("height", p.h);

    var line = d3.line()
        .x(function(d) { return x(d[0]); })
        .y(function(d) { return y(d[1]); })
        .curve(d3.curveMonotoneX);

    g.append("g")
     .attr("clip-path", "url(#clip" + i + ")")
     .selectAll("path")
     .data(allBands[i].map(function(b) { return b.slice().sort(function(a, c) { return a[0] - c[0]; }); }))
     .enter().append("path")
     .attr("class", "band")
     .attr("stroke", bandColor)
     .attr("stroke-width", bandWidth)
     .attr("d", line);

    // symmetry-point lines
    g.append("g").selectAll("line")
     .data(kPoints[i].filter(function(k) { return k > 0 && k < 1; }))
     .enter().append("line")
     .attr("class", "sym")
     .attr("x1", function(k) { return x(k); })
     .attr("x2", function(k) { return x(k); })
     .attr("y1", 0).attr("y2", p.h);

    // Fermi level
    g.append("line")
     .attr("x1", 0).attr("x2", p.w)
     .attr("y1", y(0)).attr("y2", y(0))
     .attr("stroke", first ? "#000" : "#333")
     .attr("stroke-width", first ? 1.5 : 1.3)
     .attr("stroke-dasharray", first ? "5,4" : "15,7");

    // ticks
    var majors = energyTicks.filter(function(v) { return v % 1 === 0; });
    var minors = energyTicks.filter(function(v) { return v % 1 !== 0; });
    g.append("g").attr("class", "axis")
     .call(d3.axisLeft(y).tickValues(majors).tickSizeInner(-7).tickSizeOuter(0).tickPadding(16)
           .tickFormat(d3.format("d")));
    g.append("g").attr("class", "axis")
     .call(d3.axisLeft(y).tickValues(minors).tickSizeInner(-4).tickSizeOuter(0).tickFormat(""));
    g.append("g").attr("class", "axis").attr("transform", "translate(" + p.w + ",0)")
     .call(d3.axisRight(y).tickValues(majors).tickSizeInner(-7).tickSizeOuter(0).tickFormat(""));
    g.append("g").attr("class", "axis").attr("transform", "translate(" + p.w + ",0)")
     .call(d3.axisRight(y).tickValues(minors).tickSizeInner(-4).tickSizeOuter(0).tickFormat(""));

    g.append("rect").attr("class", "frame").attr("width", p.w).attr("height", p.h);

    // k-path labels
    var ks = kPoints[i];
    g.append("g").selectAll("text")
     .data(kNames[i])
     .enter().append("text")
     .attr("class", "klabel")
     .attr("text-anchor", "middle")
     .attr("x", function(d, j) {
         var px = x(ks[j]);
         if (ks.length === 5 && j === 3) px -= 5;
         if (ks.length === 5 && j === 4) px += 7;
         return px;
     })
     .attr("y", p.h + 27)
     .text(function(d) { return d; });

    // axis title
    g.append("text")
     .attr("class", "ylabel")
     .attr("text-anchor", "middle")
     .attr("transform", "translate(-56," + (p.h / 2) + ") rotate(-90)")
     .text("Energy (eV)");

    // panel letter
    svg.append("text").attr("class", "letter")
     .attr("x", p.x - 77).attr("y", p.y + 48)
     .text(panelLetters[i]);

    // title
    var t = svg.append("text").attr("class", "title")
     .attr("x", p.tx).attr("y", p.ty).attr("text-anchor", "middle");
    if (first) {
        t.append("tspan").text("k");
        t.append("tspan").attr("font-size", "30px").attr("dy", 9).text("z");
        t.append("tspan").attr("dy", -9).text("=0");
    } else {
        t.text(panelTitles[i]);
    }
});
</script>
